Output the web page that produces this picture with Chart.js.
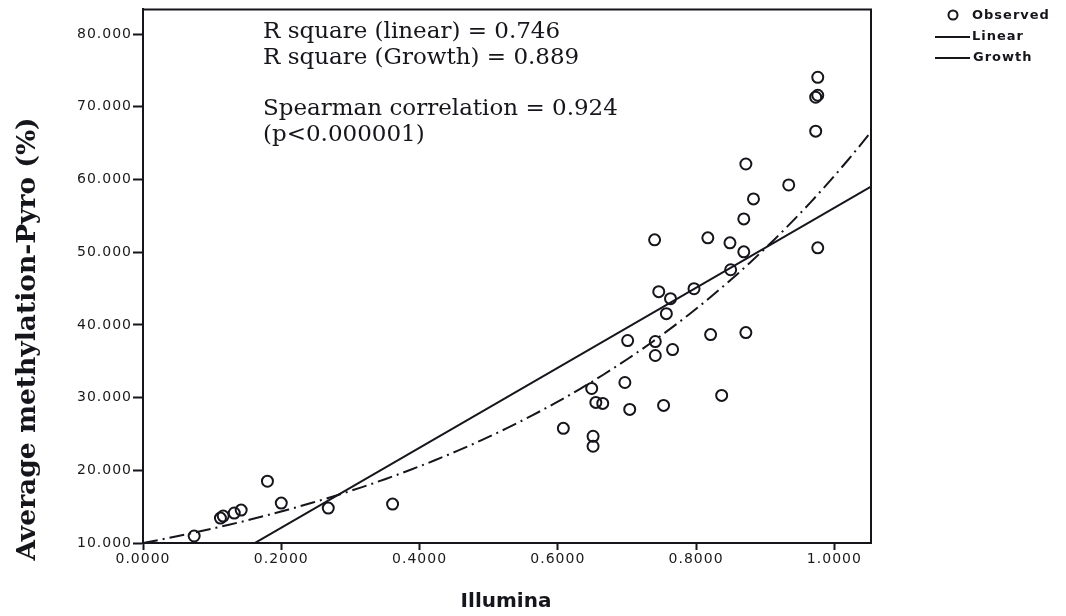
<!DOCTYPE html>
<html>
<head>
<meta charset="utf-8">
<script src="https://cdn.jsdelivr.net/npm/chart.js@4.4.0/dist/chart.umd.min.js"></script>
<style>
  html, body { margin: 0; padding: 0; background: #fff; }
</style>
</head>
<body>
<canvas id="myChart" width="1066" height="616"></canvas>
<script>
// observed points
var illumina = [0.074, 0.112, 0.116, 0.132, 0.142, 0.180, 0.200, 0.268, 0.361,
  0.608, 0.651, 0.651, 0.649, 0.655, 0.665, 0.697, 0.701, 0.704,
  0.740, 0.746, 0.741, 0.741, 0.753, 0.757, 0.763, 0.766, 0.797,
  0.817, 0.821, 0.837, 0.849, 0.850, 0.869, 0.872, 0.869, 0.872,
  0.883, 0.934, 0.976, 0.973, 0.976, 0.973, 0.976];
var pyro = [10.96, 13.43, 13.70, 14.12, 14.53, 18.50, 15.49, 14.80, 15.35,
  25.77, 24.68, 23.31, 31.26, 29.34, 29.20, 32.08, 37.85, 28.38,
  51.70, 44.57, 37.71, 35.79, 28.93, 41.55, 43.61, 36.61, 44.98,
  51.98, 38.67, 30.30, 51.29, 47.59, 54.58, 62.13, 50.05, 38.94,
  57.33, 59.25, 74.06, 71.32, 71.59, 66.65, 50.60];

// fitted curves (as drawn in the figure)
var linIntercept = 1.1, linSlope = 55.0;
var growthA = 10.0, growthB = 1.80;

var xMin = 0, xMax = 1.053, xStep = 0.2;
var yMin = 10, yMax = 83.4, yStep = 10;

var notes = ['R square (linear) = 0.746', 'R square (Growth) = 0.889',
  'Spearman correlation = 0.924', '(p<0.000001)'];
var legendLabels = ['Observed', 'Linear', 'Growth'];
var xTitle = 'Illumina';
var yTitle = 'Average methylation-Pyro (%)';

var ink = '#15151c';

var observed = illumina.map(function (x, i) { return { x: x, y: pyro[i] }; });
var linearFit = [xMin, xMax].map(function (x) { return { x: x, y: linIntercept + linSlope * x }; });
var growthFit = [];
for (var k = 0; k <= 60; k++) {
  var gx = xMin + (xMax - xMin) * k / 60;
  growthFit.push({ x: gx, y: growthA * Math.exp(growthB * gx) });
}

var decor = {
  id: 'decor',
  beforeDraw: function (chart) {
    // tick labels in the figure are set wide
    chart.ctx.letterSpacing = '1px';
  },
  afterDraw: function (chart) {
    var ctx = chart.ctx, a = chart.chartArea;
    ctx.save();
    ctx.letterSpacing = '0px';
    // box around plot
    ctx.strokeStyle = ink;
    ctx.lineWidth = 2;
    ctx.beginPath();
    ctx.moveTo(a.left, a.top);
    ctx.lineTo(a.right, a.top);
    ctx.lineTo(a.right, a.bottom);
    ctx.stroke();

    // notes
    ctx.fillStyle = ink;
    ctx.font = '23px "DejaVu Serif"';
    ctx.textAlign = 'left';
    ctx.textBaseline = 'alphabetic';
    var ys = [38, 64, 115, 141];
    notes.forEach(function (t, i) { ctx.fillText(t, 263, ys[i]); });

    // axis titles
    ctx.font = 'bold 20px "DejaVu Sans"';
    ctx.textAlign = 'center';
    ctx.fillText(xTitle, 506, 607);
    ctx.save();
    ctx.translate(28, 339);
    ctx.rotate(-Math.PI / 2);
    ctx.font = 'bold 26.5px "DejaVu Serif"';
    ctx.textBaseline = 'middle';
    ctx.fillText(yTitle, 0, 0);
    ctx.restore();

    // legend
    ctx.font = 'bold 13px "DejaVu Sans"';
    ctx.letterSpacing = '1px';
    ctx.textAlign = 'left';
    ctx.textBaseline = 'middle';
    ctx.lineWidth = 2;
    ctx.beginPath();
    ctx.arc(953, 15, 4.5, 0, Math.PI * 2);
    ctx.stroke();
    ctx.fillText(legendLabels[0], 972, 16);
    ctx.beginPath();
    ctx.moveTo(935, 37); ctx.lineTo(970, 37);
    ctx.moveTo(935, 58); ctx.lineTo(970, 58);
    ctx.stroke();
    ctx.fillText(legendLabels[1], 972, 37);
    ctx.fillText(legendLabels[2], 973, 58);
    ctx.restore();
  }
};

var config = {
  type: 'scatter',
  data: {
    datasets: [{
      label: 'Observed',
      data: observed,
      pointStyle: 'circle',
      pointRadius: 5.5,
      pointBorderWidth: 2,
      borderColor: ink,
      backgroundColor: 'rgba(0,0,0,0)',
      showLine: false
    }, {
      label: 'Linear',
      type: 'line',
      data: linearFit,
      borderColor: ink,
      borderWidth: 2,
      pointRadius: 0,
      fill: false
    }, {
      label: 'Growth',
      type: 'line',
      data: growthFit,
      borderColor: ink,
      borderWidth: 2,
      borderDash: [15, 5, 2, 5],
      pointRadius: 0,
      tension: 0,
      fill: false
    }]
  },
  options: {
    responsive: false,
    animation: false,
    layout: { padding: { top: 7, right: 195, left: 0, bottom: 0 } },
    plugins: {
      legend: { display: false },
      tooltip: { enabled: false }
    },
    scales: {
      x: {
        type: 'linear',
        min: xMin,
        max: xMax,
        afterFit: function (s) { s.height = 73; },
        border: { display: true, width: 2, color: ink },
        grid: { display: true, drawOnChartArea: false, drawTicks: true, tickLength: 7, tickWidth: 2, tickColor: ink },
        ticks: {
          stepSize: xStep,
          includeBounds: false,
          maxRotation: 0,
          padding: 1,
          color: '#1a1a1a',
          font: { family: 'DejaVu Sans', size: 14 },
          callback: function (v) { return v.toFixed(4); }
        }
      },
      y: {
        min: yMin,
        max: yMax,
        afterFit: function (s) { s.width = 143; },
        border: { display: true, width: 2, color: ink },
        grid: { display: true, drawOnChartArea: false, drawTicks: true, tickLength: 10, tickWidth: 2, tickColor: ink },
        ticks: {
          stepSize: yStep,
          includeBounds: false,
          padding: 1,
          color: '#1a1a1a',
          font: { family: 'DejaVu Sans', size: 14 },
          callback: function (v) { return v.toFixed(3); }
        }
      }
    }
  },
  plugins: [decor]
};

window.ctx = document.getElementById('myChart').getContext('2d');
window.myChart = new Chart(ctx, config);
</script>
</body>
</html>
